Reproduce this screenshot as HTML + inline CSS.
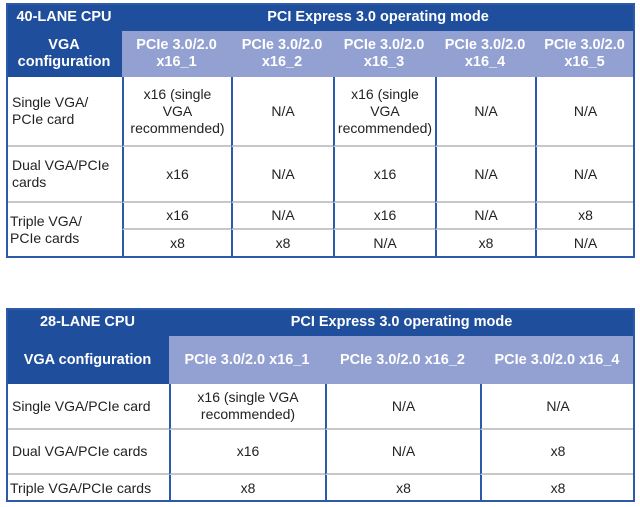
<!DOCTYPE html>
<html><head><meta charset="utf-8"><style>
body{margin:0;width:640px;height:507px;background:#fff;position:relative;font-family:"Liberation Sans",sans-serif;overflow:hidden}
.c{position:absolute;box-sizing:border-box;display:flex;align-items:center;justify-content:center;text-align:center;font-size:14px;line-height:17px;color:#222}
.d{background:#1f4f9c;color:#fff;font-weight:bold;font-size:14.5px}
.l{background:#93a0d2;color:#fff;font-weight:bold;font-size:14.5px}
.b{border-left:2px solid #2a5aa8;border-bottom:2px solid #c8c8c8}
.t{justify-content:flex-start;text-align:left;padding-left:4px}
.frame{position:absolute;box-sizing:border-box;border:2px solid #2a5aa8;pointer-events:none}
</style></head><body>
<div>
<div class="c d" style="left:6px;top:3px;width:116px;height:28px">40-LANE CPU</div>
<div class="c d" style="left:122px;top:3px;width:512px;height:28px">PCI Express 3.0 operating mode</div>
<div class="c d" style="left:6px;top:31px;width:116px;height:46px">VGA<br>configuration</div>
<div class="c l" style="left:122px;top:31px;width:109px;height:46px">PCIe 3.0/2.0<br>x16_1</div>
<div class="c l" style="left:231px;top:31px;width:102px;height:46px">PCIe 3.0/2.0<br>x16_2</div>
<div class="c l" style="left:333px;top:31px;width:102px;height:46px">PCIe 3.0/2.0<br>x16_3</div>
<div class="c l" style="left:435px;top:31px;width:100px;height:46px">PCIe 3.0/2.0<br>x16_4</div>
<div class="c l" style="left:535px;top:31px;width:99px;height:46px">PCIe 3.0/2.0<br>x16_5</div>

<div class="c b t" style="left:6px;top:77px;width:116px;height:70px">Single VGA/<br>PCIe card</div>
<div class="c b" style="left:122px;top:77px;width:109px;height:70px">x16 (single<br>VGA<br>recommended)</div>
<div class="c b" style="left:231px;top:77px;width:102px;height:70px">N/A</div>
<div class="c b" style="left:333px;top:77px;width:102px;height:70px">x16 (single<br>VGA<br>recommended)</div>
<div class="c b" style="left:435px;top:77px;width:100px;height:70px">N/A</div>
<div class="c b" style="left:535px;top:77px;width:99px;height:70px">N/A</div>

<div class="c b t" style="left:6px;top:147px;width:116px;height:56px">Dual VGA/PCIe<br>cards</div>
<div class="c b" style="left:122px;top:147px;width:109px;height:56px">x16</div>
<div class="c b" style="left:231px;top:147px;width:102px;height:56px">N/A</div>
<div class="c b" style="left:333px;top:147px;width:102px;height:56px">x16</div>
<div class="c b" style="left:435px;top:147px;width:100px;height:56px">N/A</div>
<div class="c b" style="left:535px;top:147px;width:99px;height:56px">N/A</div>

<div class="c t" style="left:6px;top:203px;width:116px;height:54px">Triple VGA/<br>PCIe cards</div>
<div class="c b" style="left:122px;top:203px;width:109px;height:27px">x16</div>
<div class="c b" style="left:231px;top:203px;width:102px;height:27px">N/A</div>
<div class="c b" style="left:333px;top:203px;width:102px;height:27px">x16</div>
<div class="c b" style="left:435px;top:203px;width:100px;height:27px">N/A</div>
<div class="c b" style="left:535px;top:203px;width:99px;height:27px">x8</div>
<div class="c b" style="left:122px;top:230px;width:109px;height:27px;border-bottom:none">x8</div>
<div class="c b" style="left:231px;top:230px;width:102px;height:27px;border-bottom:none">x8</div>
<div class="c b" style="left:333px;top:230px;width:102px;height:27px;border-bottom:none">N/A</div>
<div class="c b" style="left:435px;top:230px;width:100px;height:27px;border-bottom:none">x8</div>
<div class="c b" style="left:535px;top:230px;width:99px;height:27px;border-bottom:none">N/A</div>
<div class="frame" style="left:6px;top:3px;width:629px;height:255px"></div>
</div>

<div>
<div class="c d" style="left:6px;top:308px;width:163px;height:28px">28-LANE CPU</div>
<div class="c d" style="left:169px;top:308px;width:465px;height:28px">PCI Express 3.0 operating mode</div>
<div class="c d" style="left:6px;top:336px;width:163px;height:48px">VGA configuration</div>
<div class="c l" style="left:169px;top:336px;width:156px;height:48px">PCIe 3.0/2.0 x16_1</div>
<div class="c l" style="left:325px;top:336px;width:155px;height:48px">PCIe 3.0/2.0 x16_2</div>
<div class="c l" style="left:480px;top:336px;width:154px;height:48px">PCIe 3.0/2.0 x16_4</div>

<div class="c b t" style="left:6px;top:384px;width:163px;height:46px">Single VGA/PCIe card</div>
<div class="c b" style="left:169px;top:384px;width:156px;height:46px">x16 (single VGA<br>recommended)</div>
<div class="c b" style="left:325px;top:384px;width:155px;height:46px">N/A</div>
<div class="c b" style="left:480px;top:384px;width:154px;height:46px">N/A</div>

<div class="c b t" style="left:6px;top:430px;width:163px;height:45px">Dual VGA/PCIe cards</div>
<div class="c b" style="left:169px;top:430px;width:156px;height:45px">x16</div>
<div class="c b" style="left:325px;top:430px;width:155px;height:45px">N/A</div>
<div class="c b" style="left:480px;top:430px;width:154px;height:45px">x8</div>

<div class="c t" style="left:6px;top:475px;width:163px;height:27px">Triple VGA/PCIe cards</div>
<div class="c b" style="left:169px;top:475px;width:156px;height:27px;border-bottom:none">x8</div>
<div class="c b" style="left:325px;top:475px;width:155px;height:27px;border-bottom:none">x8</div>
<div class="c b" style="left:480px;top:475px;width:154px;height:27px;border-bottom:none">x8</div>
<div class="frame" style="left:6px;top:308px;width:629px;height:194px"></div>
</div>
</body></html>
